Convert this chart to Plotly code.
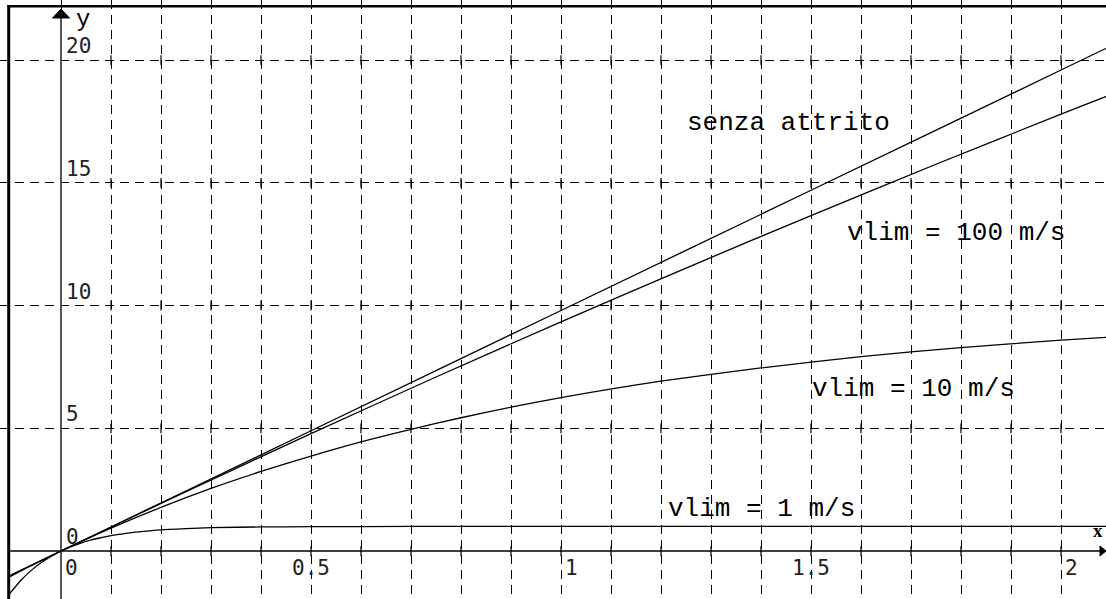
import plotly.graph_objects as go

# ---------------- data ----------------
x_free = [-0.104, 0.0, 0.5, 1.0, 1.5, 2.0, 2.1]
y_free = [-1.02, 0.0, 4.9, 9.8, 14.7, 19.6, 20.58]

x_v100 = [-0.104, 0.0, 0.25, 0.5, 0.75, 1.0, 1.25, 1.5, 1.75, 2.0, 2.1]
y_v100 = [-1.02, 0.0, 2.42, 4.78, 7.09, 9.34, 11.53, 13.67, 15.76, 17.80, 18.60]

x_v10 = [-0.104, -0.05, 0.0, 0.1, 0.2, 0.3, 0.4, 0.5, 0.6, 0.7, 0.8, 0.9,
         1.0, 1.2, 1.4, 1.6, 1.8, 2.0, 2.1]
y_v10 = [-1.07, -0.50, 0.0, 0.93, 1.78, 2.55, 3.24, 3.87, 4.45, 4.96, 5.43, 5.86,
         6.25, 6.92, 7.46, 7.92, 8.29, 8.59, 8.72]

x_v1 = [-0.104, -0.08, -0.06, -0.04, -0.02, 0.0, 0.02, 0.04, 0.06, 0.08, 0.1,
        0.13, 0.16, 0.2, 0.25, 0.3, 0.4, 0.5, 0.7, 1.0, 2.1]
y_v1 = [-1.77, -1.19, -0.80, -0.48, -0.22, 0.0, 0.18, 0.32, 0.45, 0.54, 0.63,
        0.72, 0.79, 0.86, 0.91, 0.95, 0.98, 0.99, 1.0, 1.0, 1.0]

x_tick_vals = [0, 0.5, 1, 1.5, 2]
x_tick_text = ["0", "0.5", "1", "1.5", "2"]
y_tick_vals = [0, 5, 10, 15, 20]
y_tick_text = ["0", "5", "10", "15", "20"]

grid_x = [round(0.1 * i, 1) for i in range(21)]
grid_y = [5, 10, 15, 20]

curve_labels = ["senza attrito", "vlim = 100 m/s", "vlim = 10 m/s", "vlim = 1 m/s"]

# ---------------- figure ----------------
W, H = 1106, 599
XR = [-0.122, 2.09]
YR = [-1.956, 22.453]

fig = go.Figure()

for xs, ys in [(x_free, y_free), (x_v100, y_v100), (x_v10, y_v10), (x_v1, y_v1)]:
    fig.add_trace(go.Scatter(x=xs, y=ys, mode="lines",
                             line=dict(color="black", width=1.3, shape="spline", smoothing=0.6),
                             hoverinfo="skip"))

# small tick marks at grid intersections
ix, iy = [], []
for gy in [0] + grid_y:
    for gx in grid_x:
        ix.append(gx)
        iy.append(gy)
fig.add_trace(go.Scatter(x=ix, y=iy, mode="markers",
                         marker=dict(symbol="line-ns", size=7,
                                     line=dict(color="black", width=1.2)),
                         hoverinfo="skip"))

axis_common = dict(showticklabels=False, ticks="", showgrid=True, gridcolor="black",
                   gridwidth=1.4, griddash="9px,6px", zeroline=False, showline=False,
                   tickmode="array", fixedrange=True)

fig.update_layout(
    width=W, height=H,
    margin=dict(l=0, r=0, t=0, b=0, pad=0),
    paper_bgcolor="white", plot_bgcolor="white",
    showlegend=False,
    xaxis=dict(range=XR, tickvals=grid_x, **axis_common),
    yaxis=dict(range=YR, tickvals=grid_y, **axis_common),
)

shapes = []
# y axis (gray)
shapes.append(dict(type="line", xref="x", yref="paper", x0=0, x1=0, y0=0, y1=1 - 14 / H,
                   line=dict(color="#555", width=2)))
# x axis
shapes.append(dict(type="line", xref="paper", yref="y", x0=9 / W, x1=1, y0=0, y1=0,
                   line=dict(color="black", width=1.5)))
# frame
shapes.append(dict(type="line", xref="paper", yref="paper", x0=8.7 / W, x1=8.7 / W,
                   y0=0, y1=1 - 5 / H, line=dict(color="black", width=3)))
shapes.append(dict(type="line", xref="paper", yref="paper", x0=7.5 / W, x1=1,
                   y0=1 - 6.2 / H, y1=1 - 6.2 / H, line=dict(color="black", width=2.5)))
# arrows
shapes.append(dict(type="path", xref="x", yref="paper", xsizemode="pixel", ysizemode="pixel",
                   xanchor=0, yanchor=1 - 9 / H, path="M 0 0 L -8.5 -9 L 8.5 -9 Z",
                   fillcolor="black", line=dict(color="black", width=1)))
shapes.append(dict(type="path", xref="paper", yref="y", xsizemode="pixel", ysizemode="pixel",
                   xanchor=1, yanchor=0, path="M 0 0 L -6 5 L -6 -5 Z",
                   fillcolor="black", line=dict(color="black", width=1)))
fig.update_layout(shapes=shapes)

ann = []
tick_font = dict(family="DejaVu Sans Mono", size=21, color="#222")
for v, t in zip(x_tick_vals, x_tick_text):
    ann.append(dict(x=v, y=0, xref="x", yref="y", text=t, showarrow=False,
                    xanchor="center", yanchor="middle", yshift=-17,
                    xshift=10.5 if len(t) == 1 else 0, font=tick_font))
for v, t in zip(y_tick_vals, y_tick_text):
    ann.append(dict(x=0, y=v, xref="x", yref="y", text=t, showarrow=False,
                    xanchor="left", yanchor="bottom", xshift=3, yshift=0, font=tick_font))

lab_font = dict(family="Liberation Mono", size=26, color="black")
lab_pos = [(1.454, 17.44), (1.79, 12.94), (1.704, 6.6), (1.40, 1.71)]
for t, (lx, ly) in zip(curve_labels, lab_pos):
    ann.append(dict(x=lx, y=ly, xref="x", yref="y", text=t, showarrow=False,
                    xanchor="center", yanchor="middle", font=lab_font))

ann.append(dict(x=1098 / W, y=0, xref="paper", yref="y", text="<b>x</b>", showarrow=False,
                xanchor="center", yanchor="middle", yshift=21,
                font=dict(family="Liberation Serif", size=19, color="black")))
ann.append(dict(x=0, y=1 - 20 / H, xref="x", yref="paper", text="y", showarrow=False,
                xanchor="center", yanchor="middle", xshift=22,
                font=dict(family="Liberation Mono", size=24, color="black")))
fig.update_layout(annotations=ann)

fig.write_html("out.html")
